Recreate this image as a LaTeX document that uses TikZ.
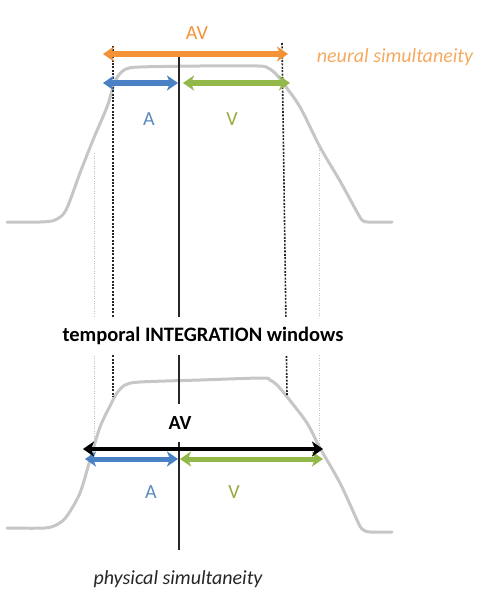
\documentclass[tikz,border=0pt]{standalone}
\usepackage{fontspec}
\setmainfont{Carlito}
\usetikzlibrary{arrows.meta}
\definecolor{curvegray}{HTML}{C6C6C6}
\definecolor{avorange}{HTML}{F39237}
\definecolor{nsorange}{HTML}{F5AA62}
\definecolor{ablue}{HTML}{4A80C4}
\definecolor{vgreen}{HTML}{92B84A}
\definecolor{atext}{HTML}{5A8AC0}
\definecolor{vtext}{HTML}{9AAA3A}
\begin{document}
\begin{tikzpicture}[x=1pt,y=-1pt,
  curve/.style={curvegray,line width=3pt,line cap=round,line join=round},
  span/.style={line width=5.4pt,{Stealth[length=11pt,width=15pt,inset=3pt]}-{Stealth[length=11pt,width=15pt,inset=3pt]}},
  bound/.style={black!85,line width=1.6pt,dash pattern=on 2pt off 1.4pt},
  faint/.style={black!25,line width=0.6pt,dash pattern=on 1pt off 1.5pt},
  midline/.style={black!85,line width=1.6pt},
  lab/.style={font=\fontsize{20}{24}\selectfont,inner sep=1pt},
  cover/.style={lab,fill=white,minimum height=38pt,inner xsep=2pt}
]
\useasboundingbox (0,0) rectangle (481,599);

% coordinates
\coordinate (midT) at (179,55);
\coordinate (midB) at (179,550);
\coordinate (lbT) at (113,46);
\coordinate (lbB) at (113,397);
\coordinate (rbT) at (282,43);
\coordinate (rbB) at (287,395);
\coordinate (lfT) at (94,153);
\coordinate (lfB) at (94,447);
\coordinate (rfT) at (319,150);
\coordinate (rfB) at (319,448);

% curves
\draw[curve] plot[smooth,tension=0.5] coordinates {
 (7,222) (40,222) (55,220) (66,210) (80,173) (93,140) (107,107) (113,87)
 (118,76) (126,69) (140,67) (200,66) (258,66) (268,68) (275,73) (283,83)
 (300,107) (320,147) (340,181) (357,212) (362,220) (368,222) (392,222)};
\draw[curve] plot[smooth,tension=0.5] coordinates {
 (7,528) (45,528) (58,524) (67,516) (80,493) (90,460) (100,427) (112,402)
 (117,393) (125,385) (140,382) (200,380) (262,378) (270,380) (277,385)
 (288,398) (307,423) (320,448) (340,483) (357,520) (362,529) (370,532) (392,532)};

% vertical guides
\draw[faint] (lfT) -- (lfB);
\draw[faint] (rfT) -- (rfB);
\draw[bound] (lbT) -- (lbB);
\draw[bound] (rbT) -- (rbB);
\draw[midline] (midT) -- (midB);

% top arrows
\coordinate (oL) at (103,54);  \coordinate (oR) at (288,54);
\coordinate (bL) at (103,83);  \coordinate (bR) at (178,83);
\coordinate (gL) at (183,83);  \coordinate (gR) at (290,83);
\draw[span,avorange] (oL) -- (oR);
\draw[span,ablue] (bL) -- (bR);
\draw[span,vgreen] (gL) -- (gR);

% bottom arrows
\coordinate (kL) at (83,449);  \coordinate (kR) at (323,449);
\coordinate (b2L) at (85,459); \coordinate (b2R) at (178,459);
\coordinate (g2L) at (180,459); \coordinate (g2R) at (323,459);
\draw[span,vgreen,line width=5pt] (g2L) -- (g2R);
\draw[span,ablue,line width=5pt] (b2L) -- (b2R);
\draw[span,black,line width=4.4pt] (kL) -- (kR);

% labels
\node[lab,text=avorange] (avtop) at (197,33) {AV};
\node[lab,text=nsorange,font=\fontsize{20}{24}\selectfont\itshape] (neural) at (395,57) {neural simultaneity};
\node[lab,text=atext] (atop) at (149,119) {A};
\node[lab,text=vtext] (vtop) at (232,119) {V};
\node[cover,font=\fontsize{20.5}{24}\selectfont\bfseries] (temporal) at (203,336) {temporal INTEGRATION windows};
\node[cover,font=\fontsize{20}{24}\selectfont\bfseries,minimum width=28pt] (avbot) at (180,423) {AV};
\node[lab,text=atext] (abot) at (151,492) {A};
\node[lab,text=vtext] (vbot) at (234,492) {V};
\node[lab,text=black!85,font=\fontsize{20}{24}\selectfont\itshape] (phys) at (178,579) {physical simultaneity};
\end{tikzpicture}
\end{document}
